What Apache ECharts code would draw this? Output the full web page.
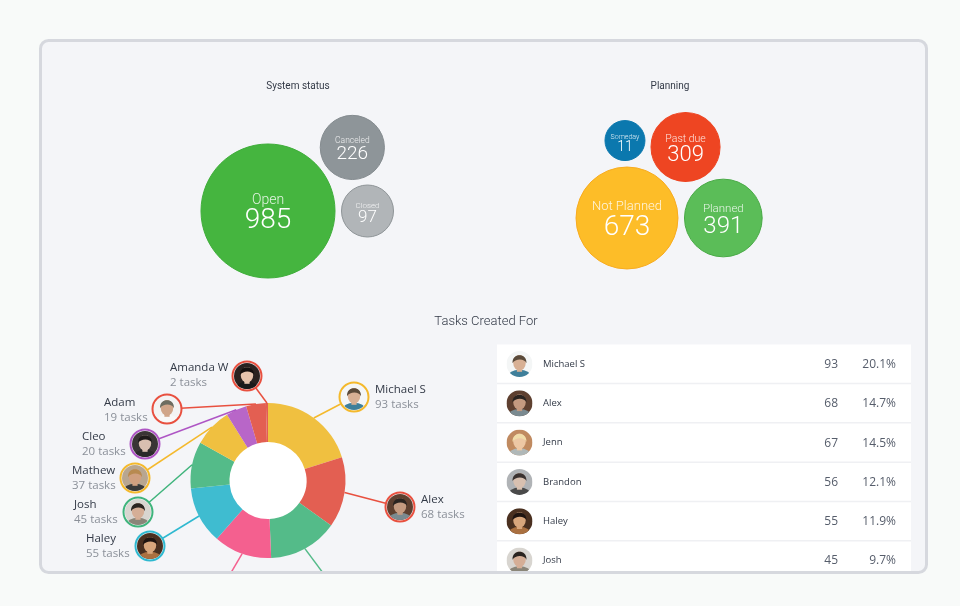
<!DOCTYPE html>
<html>
<head>
<meta charset="utf-8">
<style>
  html, body { margin: 0; padding: 0; background: #f8faf9; }
  #chart { width: 960px; height: 606px; }
</style>
<script src="https://cdn.jsdelivr.net/npm/echarts@6/dist/echarts.min.js"></script>
</head>
<body>
<div id="chart"></div>
<script>
// bubble charts
var statusNames = ['Open', 'Canceled', 'Closed']
var statusValues = [985, 226, 97]
var planningNames = ['Not Planned', 'Past due', 'Planned', 'Someday']
var planningValues = [673, 309, 391, 11]

// donut + table
var people = ['Michael S', 'Alex', 'Jenn', 'Brandon', 'Haley', 'Josh', 'Mathew', 'Cleo', 'Adam', 'Amanda W']
var tasks = [93, 68, 67, 56, 55, 45, 37, 20, 19, 2]
var percents = ['20.1%', '14.7%', '14.5%', '12.1%', '11.9%', '9.7%']

// colours
var statusColors = ['#45b53f', '#8e9599', '#b1b5b8']
var statusEdges = ['#3fae3a', '#858c90', '#8f9598']
var planningColors = ['#fdbd28', '#ee4522', '#5bbd58', '#0b78ae']
var planningEdges = ['#f8ac20', '#ee4522', '#48aa45', '#0b78ae']
var sliceColors = ['#f0c040', '#e35f52', '#54bb89', '#f4608f', '#3fbcd0', '#54bb89', '#f0c040', '#b866c8', '#e35f52', '#e35f52']
var ringColors = ['#f4b92c', '#e8503f', '#54bb89', '#f4608f', '#2fb9d0', '#3fb47c', '#f4b92c', '#ae55c4', '#e8503f', '#e8503f']

// layout only: bubbles sit against an anchor bubble at a given angle
var statusAnchor = [268, 211]
var statusAngles = [0, -37, 0]
var planningAnchor = [627, 218]
var planningAngles = [0, -50.5, 0, -91.5]
var pieCenter = [268, 480.5]
var pieRadius = [38.5, 77.5]
var avatarX = [354, 400, 352, 208, 150, 138, 135, 145, 167, 247]
var avatarY = [397, 507, 612, 612, 546, 512, 478, 444, 409, 376]
var captionX = [375, 421, 0, 0, 86, 74, 72, 82, 104, 170]
var captionY = [390, 500, 0, 0, 539, 505, 471, 437, 403, 368]

// portrait colours: backdrop, shirt, skin, hair
var portraits = [
  ['#f4f6f6', '#3f7f9a', '#d8b094', '#5a4a3a'],
  ['#5e4030', '#7a8a90', '#c49a80', '#2b2420'],
  ['#c08a60', '#b0b8b8', '#edc7a4', '#f0dca8'],
  ['#b0b3b6', '#4a4a4a', '#d8c0b0', '#3a3230'],
  ['#4a3020', '#aa7040', '#d8a67c', '#1f1410'],
  ['#d8d5d0', '#8a8578', '#d5ae96', '#2a2420'],
  ['#b8a690', '#3a3a3a', '#d0a080', '#b88a50'],
  ['#3a3535', '#2a2a2a', '#d9bfb0', '#1f1b1b'],
  ['#f3f3f3', '#f8f8f8', '#d0a589', '#6c6c60'],
  ['#2a2220', '#1a1a1a', '#e5c3ac', '#15100f']
]

var INK = '#333a47'
var MUTED = '#8b9099'
var BODY_FONT = '"Open Sans"'
var TITLE_FONT = 'Roboto'

function portraitUri(p) {
  var svg = '<svg xmlns="http://www.w3.org/2000/svg" width="60" height="60" viewBox="0 0 60 60">' +
    '<clipPath id="c"><circle cx="30" cy="30" r="30"/></clipPath><g clip-path="url(#c)">' +
    '<rect width="60" height="60" fill="' + p[0] + '"/>' +
    '<ellipse cx="30" cy="60" rx="27" ry="17" fill="' + p[1] + '"/>' +
    '<rect x="24" y="38" width="12" height="10" fill="' + p[2] + '"/>' +
    '<ellipse cx="30" cy="27" rx="14.5" ry="18" fill="' + p[2] + '"/>' +
    '<path d="M14 28 C12 4 48 4 46 28 C42 17 20 17 14 28 Z" fill="' + p[3] + '"/>' +
    '</g></svg>'
  return 'data:image/svg+xml;charset=utf-8,' + encodeURIComponent(svg)
}

// fonts[i]: name size, value size, value line height
function packBubbles(names, values, colors, edges, anchor, angles, scale, minSize, fonts) {
  var sizes = values.map(function (v) { return Math.max(minSize, scale * Math.sqrt(v)) })
  return names.map(function (name, i) {
    var dist = i === 0 ? 0 : (sizes[0] + sizes[i]) / 2 + 6.5
    var a = angles[i] * Math.PI / 180
    return {
      value: [anchor[0] + dist * Math.cos(a), anchor[1] + dist * Math.sin(a), values[i]],
      symbolSize: sizes[i],
      itemStyle: { color: colors[i], borderColor: edges[i], borderWidth: 1, opacity: 1 },
      label: {
        show: true,
        position: 'inside',
        offset: [0, 3],
        formatter: '{n|' + name + '}\n{v|' + values[i] + '}',
        rich: {
          n: { fontFamily: TITLE_FONT, fontWeight: 300, fontSize: fonts[i][0], color: 'rgba(255,255,255,0.85)', lineHeight: fonts[i][0], align: 'center' },
          v: { fontFamily: TITLE_FONT, fontWeight: 300, fontSize: fonts[i][1], color: '#fff', lineHeight: fonts[i][2], align: 'center' }
        }
      }
    }
  })
}

function text(x, y, str, font, fill, align, z) {
  return {
    type: 'text', z: z || 3, silent: true,
    style: { x: x, y: y, text: str, font: font, fill: fill, textAlign: align || 'left', textVerticalAlign: 'middle' }
  }
}

function avatar(cx, cy, r, i, z) {
  return {
    type: 'image', z: z || 4, silent: true,
    style: { image: portraitUri(portraits[i]), x: cx - r, y: cy - r, width: r * 2, height: r * 2 }
  }
}

var els = []

// panel
els.push({ type: 'rect', z: 0, silent: true, shape: { x: 41, y: 41, width: 885, height: 532, r: 8 }, style: { fill: '#f4f5f8' } })

// titles
els.push(text(298, 86, 'System status', '10px ' + TITLE_FONT, INK, 'center'))
els.push(text(670, 86, 'Planning', '10px ' + TITLE_FONT, INK, 'center'))
els.push(text(486, 322, 'Tasks Created For', '300 13px ' + TITLE_FONT, INK, 'center'))

// donut hole
els.push({ type: 'circle', z: 1, silent: true, shape: { cx: pieCenter[0], cy: pieCenter[1], r: pieRadius[0] + 1 }, style: { fill: '#fff' } })

// callouts: leader from the slice's mid angle to the portrait
var total = tasks.reduce(function (a, b) { return a + b }, 0)
var running = 0
people.forEach(function (name, i) {
  var mid = (running + tasks[i] / 2) / total * 2 * Math.PI
  running += tasks[i]
  var sx = pieCenter[0] + pieRadius[1] * Math.sin(mid)
  var sy = pieCenter[1] - pieRadius[1] * Math.cos(mid)
  els.push({ type: 'line', z: 3, silent: true, shape: { x1: sx, y1: sy, x2: avatarX[i], y2: avatarY[i] }, style: { stroke: ringColors[i], lineWidth: 1.5 } })
  els.push({ type: 'circle', z: 4, silent: true, shape: { cx: avatarX[i], cy: avatarY[i], r: 14.5 }, style: { fill: '#f4f5f8', stroke: ringColors[i], lineWidth: 2 } })
  els.push(avatar(avatarX[i], avatarY[i], 13, i, 5))
  if (captionX[i]) {
    els.push(text(captionX[i], captionY[i], name, '11.5px ' + BODY_FONT, INK))
    els.push(text(captionX[i], captionY[i] + 14.5, tasks[i] + ' tasks', '11.5px ' + BODY_FONT, MUTED))
  }
})

// table
var rowTop = 344.5
var rowStep = 39.3
els.push({ type: 'rect', z: 1, silent: true, shape: { x: 497, y: rowTop, width: 414, height: 235 }, style: { fill: '#fff' } })
percents.forEach(function (pct, i) {
  var cy = rowTop + rowStep * i + 19.5
  if (i) els.push({ type: 'rect', z: 2, silent: true, shape: { x: 497, y: rowTop + rowStep * i - 1, width: 414, height: 1.5 }, style: { fill: '#eff0f3' } })
  els.push(avatar(519.5, cy, 13, i, 3))
  els.push(text(543, cy, people[i], '500 9.5px ' + BODY_FONT, INK))
  els.push(text(838, cy + 0.5, String(tasks[i]), '12px ' + BODY_FONT, '#565d6b', 'right'))
  els.push(text(896, cy + 0.5, pct, '12px ' + BODY_FONT, '#565d6b', 'right'))
})

// everything below the panel is cut off by the page
els.push({ type: 'rect', z: 99, silent: true, shape: { x: 0, y: 573, width: 960, height: 33 }, style: { fill: '#f8faf9' } })
els.push({ type: 'rect', z: 100, silent: true, shape: { x: 40.5, y: 40.5, width: 886, height: 532, r: 8 }, style: { fill: 'none', stroke: '#d6d8de', lineWidth: 3 } })

var chart = echarts.init(document.getElementById('chart'))
chart.setOption({
  animation: false,
  backgroundColor: '#f8faf9',
  grid: { left: 0, top: 0, width: 960, height: 606 },
  xAxis: { type: 'value', min: 0, max: 960, show: false },
  yAxis: { type: 'value', min: 0, max: 606, inverse: true, show: false },
  graphic: { elements: els },
  series: [
    {
      type: 'scatter', clip: false, silent: true,
      data: packBubbles(statusNames, statusValues, statusColors, statusEdges, statusAnchor, statusAngles, 4.27, 52,
        [[14, 28, 27], [8.5, 19, 19], [8, 17, 17]])
    },
    {
      type: 'scatter', clip: false, silent: true,
      data: packBubbles(planningNames, planningValues, planningColors, planningEdges, planningAnchor, planningAngles, 3.93, 40,
        [[13, 28, 29], [10.5, 22, 21], [11.5, 24, 24], [7, 14, 13]])
    },
    {
      type: 'pie', silent: true, center: pieCenter, radius: pieRadius, startAngle: 90, clockwise: true,
      label: { show: false }, labelLine: { show: false },
      data: people.map(function (name, i) {
        return { name: name, value: tasks[i], itemStyle: { color: sliceColors[i] } }
      })
    }
  ]
})
</script>
</body>
</html>
